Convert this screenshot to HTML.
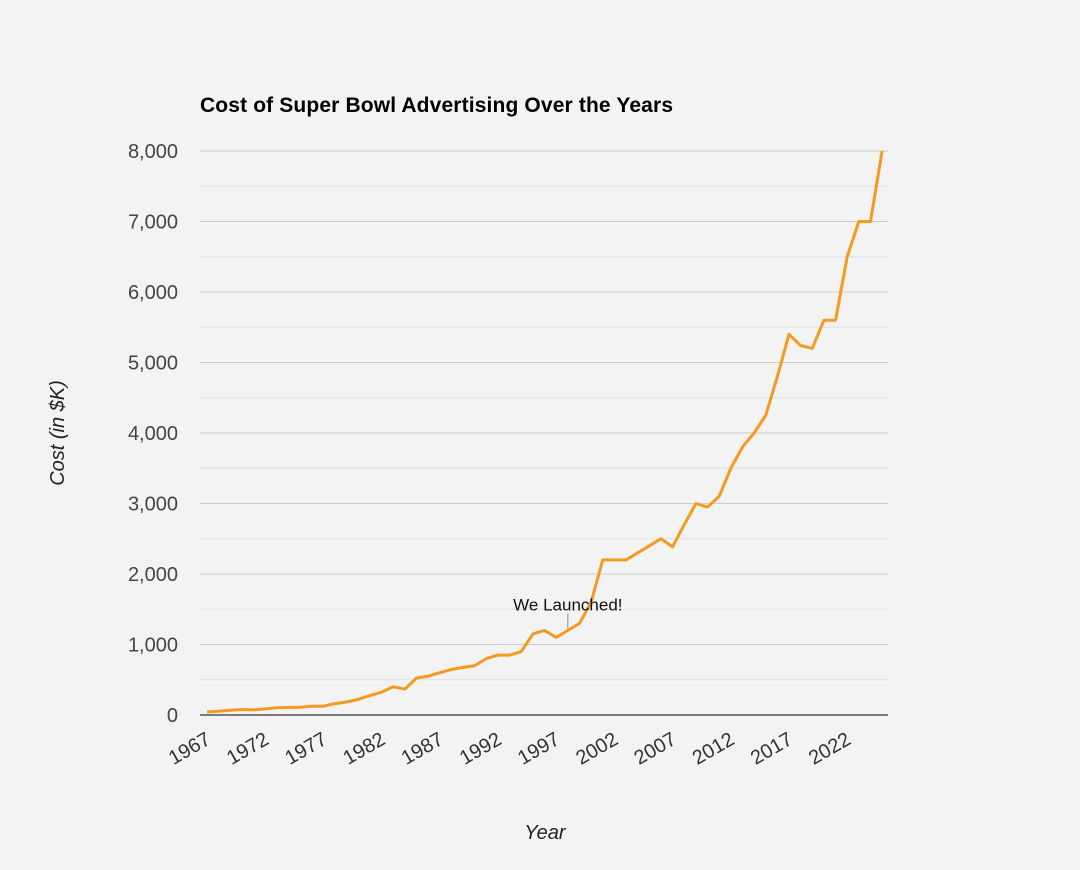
<!DOCTYPE html>
<html><head><meta charset="utf-8"><style>
html,body{margin:0;padding:0;background:#f3f3f3;}
svg{display:block;font-family:"Liberation Sans",Arial,sans-serif;}
</style></head><body>
<svg id="chart" width="1080" height="870" viewBox="0 0 1080 870">
<rect width="1080" height="870" fill="#f3f3f3"/>
<text x="200" y="112" font-size="21" font-weight="bold" fill="#000" textLength="473">Cost of Super Bowl Advertising Over the Years</text>
<g id="grid"></g>
<g id="yt"></g>
<g id="xt"></g>
<g id="series"></g>
<text transform="translate(64,433) rotate(-90)" text-anchor="middle" font-size="20" font-style="italic" fill="#222">Cost (in $K)</text>
<text x="545" y="839" text-anchor="middle" font-size="20" font-style="italic" fill="#222">Year</text>
</svg>
<script>
const years=[1967,1968,1969,1970,1971,1972,1973,1974,1975,1976,1977,1978,1979,1980,1981,1982,1983,1984,1985,1986,1987,1988,1989,1990,1991,1992,1993,1994,1995,1996,1997,1998,1999,2000,2001,2002,2003,2004,2005,2006,2007,2008,2009,2010,2011,2012,2013,2014,2015,2016,2017,2018,2019,2020,2021,2022,2023,2024,2025];
const costs=[42,54,67,78,72,86,103,107,110,125,125,162,185,222,275,324,400,368,525,550,600,645,675,700,800,850,850,900,1150,1200,1100,1200,1300,1600,2200,2200,2200,2300,2400,2500,2385,2700,3000,2950,3100,3500,3800,4000,4250,4800,5400,5240,5200,5600,5600,6500,7000,7000,8000];
const yTicks=[0,1000,2000,3000,4000,5000,6000,7000,8000];
const xTicks=[1967,1972,1977,1982,1987,1992,1997,2002,2007,2012,2017,2022];
const annYear=1998, annText="We Launched!";
const NS="http://www.w3.org/2000/svg";
const X=v=>207+(v-1967)*11.64;
const Y=v=>715-v*0.0705;
function mk(t,a,p){const e=document.createElementNS(NS,t);for(const k in a)e.setAttribute(k,a[k]);p.appendChild(e);return e;}
const grid=document.getElementById('grid'),yt=document.getElementById('yt'),xt=document.getElementById('xt'),ser=document.getElementById('series');
for(let v=500;v<=8000;v+=500){
 const l=mk('line',{x1:200,x2:888,y1:Y(v),y2:Y(v),stroke:v%1000?'#e2e2e2':'#cccccc','stroke-width':1},grid);
 
 
}
yTicks.forEach(v=>{
 const t=mk('text',{x:178,y:Y(v)+7,'text-anchor':'end','font-size':20,fill:'#444'},yt);
 t.textContent=v.toLocaleString('en-US');
 
 
});
const base=mk('line',{x1:200,x2:888,y1:Y(0),y2:Y(0),stroke:'#333','stroke-width':1.3},grid);


xTicks.forEach(v=>{
 const x=X(v)+5,y=743;
 const t=mk('text',{x:x,y:y,'text-anchor':'end','font-size':20,fill:'#333',transform:`rotate(-30 ${x} ${y})`},xt);
 t.textContent=v;
 
 
});
const pl=mk('polyline',{points:years.map((y,i)=>X(y)+','+Y(costs[i])).join(' '),fill:'none',stroke:'#f5991f','stroke-width':3,'stroke-linejoin':'round'},ser);


const ai=years.indexOf(annYear);
const ax=X(annYear),ay=Y(costs[ai]);
const al=mk('line',{x1:ax,x2:ax,y1:ay-17,y2:ay-2,stroke:'#888','stroke-width':1},ser);


const at=mk('text',{x:ax,y:ay-20,'text-anchor':'middle','font-size':17,fill:'#111'},ser);
at.textContent=annText;


</script>
</body></html>
